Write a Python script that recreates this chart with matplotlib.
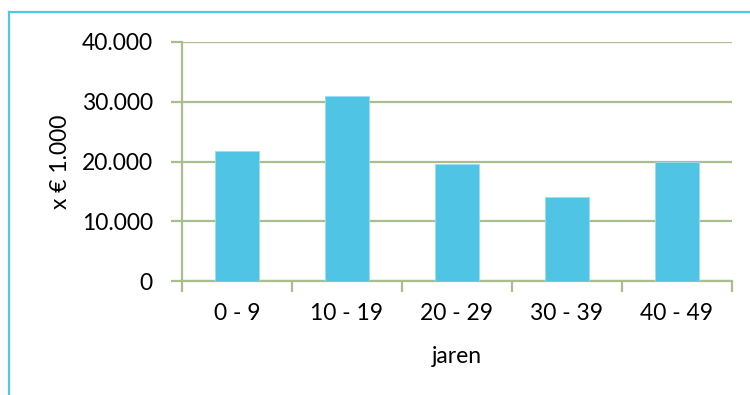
import matplotlib
matplotlib.use("Agg")
import matplotlib.pyplot as plt
from matplotlib.lines import Line2D
import numpy as np

categories = ["0 - 9", "10 - 19", "20 - 29", "30 - 39", "40 - 49"]
values = [21700, 30900, 19500, 14100, 20000]
yticks = [0, 10000, 20000, 30000, 40000]
ytick_labels = ["0", "10.000", "20.000", "30.000", "40.000"]

plt.rcParams['font.family'] = ['Lato', 'DejaVu Sans']

W, H = 750, 395
fig = plt.figure(figsize=(W / 100, H / 100), dpi=100)
ax = fig.add_axes([182 / W, 1 - 281 / H, 550 / W, 239 / H])

grid_col = "#a9bd8e"
bar_col = "#50c4e4"
fs = 16.5

x = np.arange(len(categories))
ax.bar(x, values, width=0.4, color=bar_col, edgecolor="#9fdcef", linewidth=0.6, zorder=3)

ax.set_xlim(-0.5, len(categories) - 0.5)
ax.set_ylim(0, 40000)
ax.set_yticks(yticks)
ax.set_yticklabels(ytick_labels, fontsize=fs)
ax.set_xticks(x)
ax.set_xticklabels(categories, fontsize=fs)
ax.tick_params(axis="x", length=0, pad=16)
ax.tick_params(axis="y", length=8, width=1.6, color=grid_col, pad=13)

# category boundary tick marks on the x axis
ax.set_xticks(np.arange(-0.5, len(categories)), minor=True)
ax.tick_params(axis="x", which="minor", length=8, width=1.6, color=grid_col)

ax.grid(axis="y", color=grid_col, linewidth=1.6, zorder=0)
for s in ["top", "right"]:
    ax.spines[s].set_visible(False)
for s in ["left", "bottom"]:
    ax.spines[s].set_color(grid_col)
    ax.spines[s].set_linewidth(1.6)

ax.set_ylabel("x € 1.000", fontsize=fs, labelpad=8)
ax.set_xlabel("jaren", fontsize=fs, labelpad=16)

# outer frame lines
border = "#4dc8e8"
fig.add_artist(Line2D([9 / W, 9 / W], [0, 1 - 12 / H], color=border, linewidth=1.6,
                      transform=fig.transFigure))
fig.add_artist(Line2D([9 / W, 1], [1 - 12 / H, 1 - 12 / H], color=border, linewidth=1.6,
                      transform=fig.transFigure))

fig.savefig("out.png", dpi=100)
